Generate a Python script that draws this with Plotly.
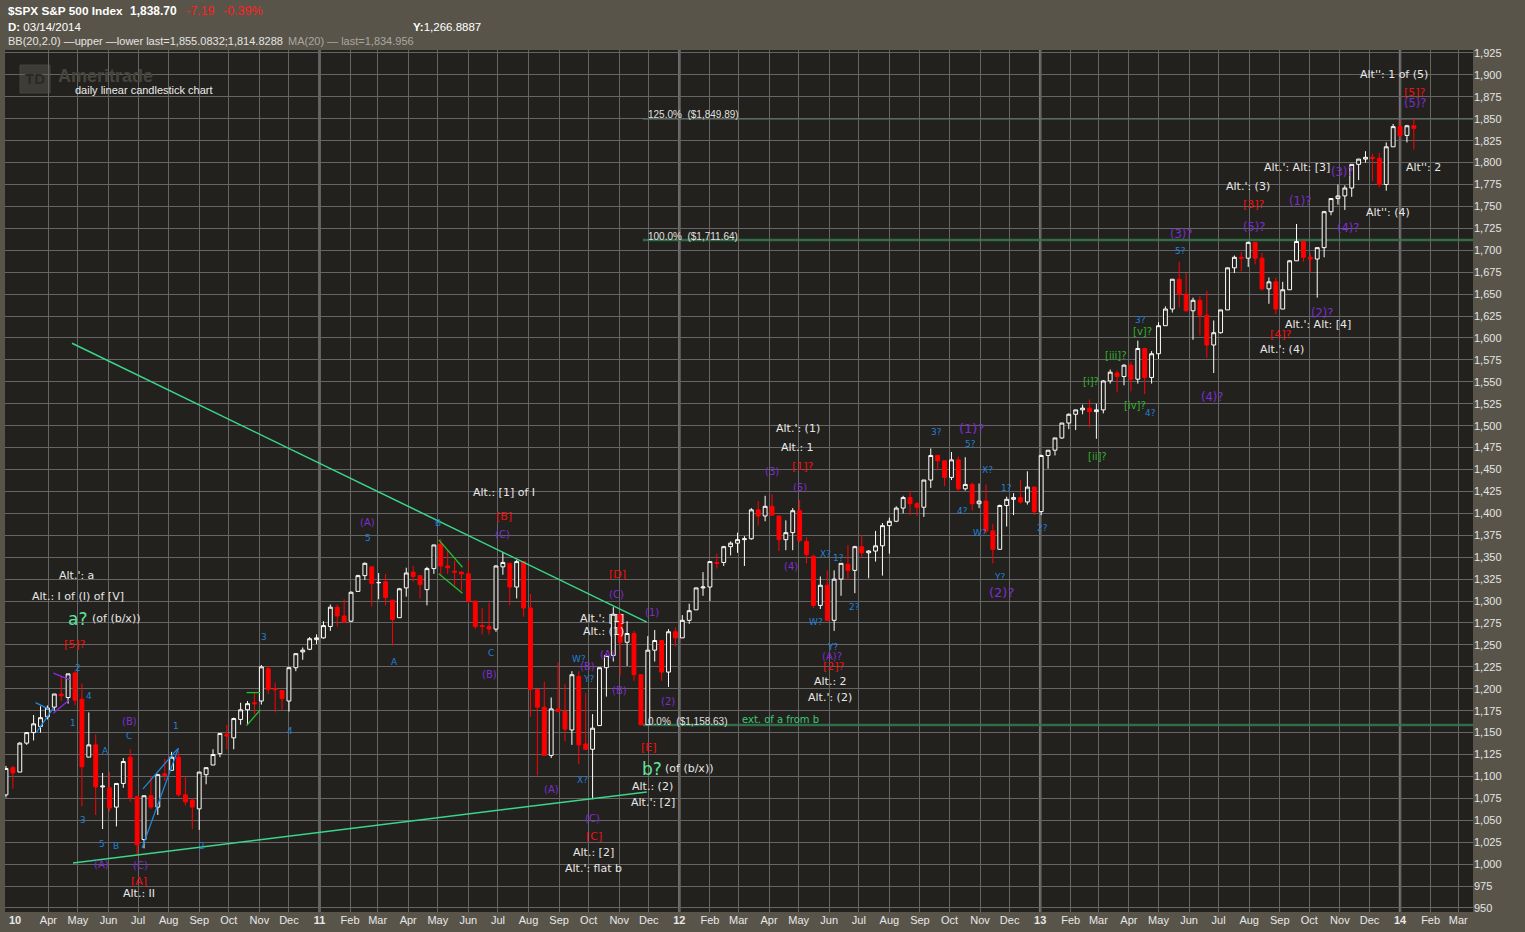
import plotly.graph_objects as go
import pandas as pd

# ---------------- data (weekly OHLC) ----------------
ohlc_2010 = [
    (1079, 1112, 1076, 1109), (1110, 1112, 1086, 1104), (1105, 1139, 1105, 1138), (1138, 1150, 1136, 1150),
    (1150, 1170, 1141, 1160), (1157, 1180, 1150, 1167), (1168, 1181, 1165, 1178), (1179, 1194, 1175, 1194),
    (1194, 1214, 1186, 1192), (1190, 1217, 1183, 1217), (1218, 1220, 1181, 1187), (1188, 1206, 1066, 1111),
    (1122, 1173, 1122, 1136), (1136, 1148, 1056, 1088), (1088, 1104, 1040, 1089), (1087, 1105, 1060, 1064),
    (1065, 1092, 1043, 1092), (1092, 1121, 1087, 1117), (1122, 1131, 1071, 1076), (1077, 1078, 1011, 1022),
    (1028, 1078, 1018, 1078), (1078, 1100, 1063, 1065), (1065, 1103, 1056, 1102), (1103, 1120, 1095, 1101),
    (1107, 1128, 1107, 1122), (1122, 1129, 1077, 1079), (1079, 1100, 1067, 1071), (1073, 1075, 1040, 1065),
    (1063, 1105, 1039, 1105), (1102, 1110, 1091, 1110), (1113, 1131, 1113, 1125), (1126, 1149, 1122, 1149),
    (1148, 1159, 1131, 1146), (1144, 1167, 1131, 1166), (1165, 1184, 1159, 1176), (1176, 1186, 1159, 1183),
    (1184, 1196, 1171, 1183), (1186, 1227, 1182, 1225), (1223, 1226, 1194, 1199), (1200, 1207, 1173, 1199),
    (1198, 1198, 1176, 1189), (1186, 1225, 1174, 1224), (1224, 1240, 1220, 1240), (1242, 1247, 1233, 1244),
    (1245, 1259, 1244, 1257), (1256, 1262, 1251, 1258),
]
ohlc_2011 = [
    (1258, 1277, 1257, 1272), (1271, 1296, 1266, 1293), (1293, 1296, 1271, 1283), (1283, 1302, 1275, 1276),
    (1277, 1311, 1276, 1310), (1311, 1330, 1311, 1329), (1329, 1344, 1324, 1343), (1339, 1339, 1294, 1320),
    (1321, 1332, 1302, 1321), (1322, 1331, 1295, 1304), (1301, 1301, 1249, 1279), (1281, 1315, 1281, 1314),
    (1315, 1338, 1305, 1332), (1333, 1340, 1322, 1328), (1329, 1329, 1303, 1319), (1313, 1339, 1295, 1337),
    (1337, 1364, 1331, 1364), (1365, 1371, 1329, 1340), (1340, 1359, 1331, 1338), (1334, 1346, 1318, 1333),
    (1333, 1334, 1312, 1331), (1331, 1346, 1297, 1300), (1300, 1300, 1268, 1271), (1272, 1292, 1262, 1271),
    (1271, 1298, 1262, 1268), (1268, 1341, 1265, 1340), (1339, 1356, 1330, 1344), (1343, 1343, 1295, 1316),
    (1316, 1347, 1303, 1345), (1345, 1345, 1282, 1292), (1292, 1308, 1168, 1199), (1199, 1199, 1101, 1179),
    (1179, 1208, 1124, 1124), (1124, 1190, 1121, 1177), (1177, 1230, 1173, 1174), (1174, 1205, 1140, 1154),
    (1153, 1220, 1136, 1216), (1214, 1220, 1114, 1136), (1137, 1195, 1130, 1131), (1131, 1171, 1074, 1155),
    (1158, 1224, 1158, 1224), (1224, 1239, 1191, 1238), (1238, 1293, 1231, 1285), (1285, 1285, 1215, 1253),
    (1253, 1277, 1226, 1263), (1263, 1266, 1209, 1216), (1216, 1216, 1158, 1159), (1159, 1260, 1159, 1244),
    (1244, 1267, 1231, 1255), (1255, 1255, 1209, 1219), (1219, 1268, 1202, 1265), (1265, 1270, 1248, 1258),
]
ohlc_2012 = [
    (1258, 1284, 1258, 1278), (1278, 1297, 1274, 1289), (1290, 1315, 1290, 1315), (1315, 1333, 1306, 1316),
    (1316, 1345, 1300, 1345), (1344, 1354, 1337, 1343), (1344, 1363, 1340, 1362), (1362, 1368, 1352, 1366),
    (1366, 1378, 1355, 1370), (1370, 1374, 1340, 1371), (1371, 1406, 1370, 1404), (1404, 1414, 1386, 1397),
    (1397, 1420, 1391, 1408), (1408, 1422, 1397, 1398), (1397, 1397, 1357, 1370), (1370, 1392, 1358, 1378),
    (1378, 1406, 1358, 1403), (1403, 1415, 1367, 1369), (1368, 1373, 1343, 1353), (1351, 1353, 1292, 1295),
    (1295, 1328, 1291, 1318), (1318, 1335, 1277, 1278), (1278, 1335, 1266, 1325), (1325, 1343, 1306, 1343),
    (1342, 1364, 1324, 1335), (1335, 1363, 1309, 1362), (1362, 1375, 1350, 1355), (1355, 1358, 1326, 1357),
    (1357, 1380, 1345, 1363), (1363, 1389, 1329, 1386), (1386, 1395, 1354, 1391), (1391, 1408, 1390, 1406),
    (1406, 1420, 1400, 1418), (1418, 1426, 1398, 1411), (1411, 1413, 1397, 1407), (1407, 1438, 1396, 1438),
    (1438, 1474, 1429, 1466), (1466, 1467, 1449, 1460), (1460, 1460, 1431, 1441), (1441, 1470, 1438, 1461),
    (1461, 1465, 1425, 1428), (1428, 1464, 1426, 1433), (1433, 1435, 1403, 1411), (1411, 1434, 1406, 1414),
    (1414, 1433, 1377, 1380), (1380, 1388, 1343, 1359), (1359, 1410, 1359, 1409), (1409, 1419, 1385, 1416),
    (1416, 1423, 1398, 1418), (1418, 1438, 1411, 1413), (1413, 1448, 1410, 1430), (1430, 1430, 1398, 1402),
    (1402, 1467, 1398, 1466),
]
ohlc_2013 = [
    (1466, 1472, 1451, 1472), (1472, 1486, 1466, 1486), (1486, 1503, 1485, 1503), (1503, 1514, 1496, 1513),
    (1513, 1518, 1495, 1518), (1518, 1524, 1513, 1520), (1520, 1530, 1498, 1516), (1516, 1525, 1485, 1518),
    (1518, 1552, 1514, 1551), (1551, 1564, 1548, 1561), (1560, 1563, 1538, 1556), (1556, 1570, 1546, 1569),
    (1569, 1573, 1539, 1553), (1553, 1597, 1548, 1588), (1588, 1588, 1536, 1555), (1555, 1585, 1548, 1582),
    (1582, 1618, 1576, 1614), (1614, 1636, 1614, 1633), (1633, 1667, 1629, 1667), (1667, 1687, 1635, 1650),
    (1650, 1674, 1630, 1631), (1631, 1646, 1598, 1643), (1643, 1648, 1603, 1626), (1626, 1654, 1577, 1592),
    (1592, 1620, 1560, 1606), (1606, 1632, 1605, 1632), (1632, 1680, 1632, 1680), (1680, 1694, 1674, 1692),
    (1692, 1698, 1676, 1691), (1691, 1710, 1681, 1709), (1709, 1709, 1684, 1691), (1691, 1697, 1654, 1656),
    (1656, 1669, 1639, 1664), (1664, 1669, 1627, 1633), (1633, 1664, 1633, 1655), (1655, 1689, 1655, 1688),
    (1688, 1730, 1688, 1710), (1710, 1711, 1687, 1692), (1692, 1696, 1675, 1690), (1690, 1703, 1646, 1703),
    (1703, 1745, 1692, 1744), (1744, 1759, 1740, 1759), (1759, 1775, 1752, 1762), (1762, 1774, 1746, 1771),
    (1771, 1798, 1761, 1798), (1798, 1804, 1780, 1804), (1804, 1813, 1800, 1806), (1806, 1810, 1779, 1805),
    (1805, 1811, 1772, 1775), (1775, 1823, 1768, 1818), (1818, 1844, 1818, 1841), (1841, 1849, 1827, 1831),
]
ohlc_2014 = [
    (1831, 1843, 1823, 1842), (1842, 1851, 1815, 1839),
]

# Fibonacci levels
fib_levels = [1849.89, 1711.64, 1158.63]
fib_texts = ["125.0%  ($1,849.89)", "100.0%  ($1,711.64)", "0.0%  ($1,158.63)"]
fib_start = "2011-11-25"

# Trend lines (date, price) pairs
trend_upper = (["2010-04-25", "2011-11-29"], [1594, 1276])
trend_lower = (["2010-04-26", "2011-11-29"], [1001.4, 1082.3])
blue_channel = [(["2010-07-05", "2010-08-11"], [1018.5, 1132.5]),
                (["2010-07-06", "2010-08-10"], [1085.8, 1131.4]),
                (["2010-03-19", "2010-04-01"], [1184.2, 1177.0]),
                (["2010-03-20", "2010-04-06"], [1150.4, 1177.8])]
purple_wedge = [(["2010-04-06", "2010-04-23"], [1217.7, 1210.0]),
                (["2010-04-06", "2010-04-22"], [1172.1, 1187.3])]
green_small = [(["2010-10-19", "2010-11-02"], [1195.6, 1195.6]),
               (["2010-10-19", "2010-11-02"], [1158.0, 1175.9]),
               (["2011-05-02", "2011-05-26"], [1369.7, 1338.6]),
               (["2011-05-02", "2011-05-26"], [1331.0, 1308.9])]

# Wave labels (date, price, text)
white_labels = [
    ("2010-04-30", 1328.6, "Alt.': a"), ("2010-05-01", 1304.7, "Alt.: I of (I) of [V]"),
    ("2010-07-02", 966, "Alt.: II"), ("2011-07-07", 1423.3, "Alt.: [1] of I"),
    ("2011-10-15", 1279.6, "Alt.': [1]"), ("2011-10-16", 1264.8, "Alt.: (1)"),
    ("2011-12-05", 1088, "Alt.: (2)"), ("2011-12-05", 1069.8, "Alt.': [2]"),
    ("2011-10-06", 1012.8, "Alt.: [2]"), ("2011-10-06", 994.6, "Alt.': flat b"),
    ("2012-04-30", 1496.3, "Alt.': (1)"), ("2012-04-30", 1474.6, "Alt.: 1"),
    ("2012-06-02", 1207.8, "Alt.: 2"), ("2012-06-02", 1189.5, "Alt.': (2)"),
    ("2013-09-18", 1793.9, "Alt.': Alt: [3]"), ("2013-07-31", 1773.3, "Alt.': (3)"),
    ("2013-12-20", 1742.6, "Alt'': (4)"), ("2014-01-25", 1793.9, "Alt'': 2"),
    ("2013-10-10", 1614.9, "Alt.': Alt: [4]"), ("2013-09-03", 1586.3, "Alt.': (4)"),
    ("2013-12-26", 1899.9, "Alt'': 1 of (5)"),
]
white_left_labels = [("2010-05-13", 1279.6, "(of (b/x))"), ("2011-12-15", 1108.6, "(of (b/x))")]
blue_labels = [
    ("2010-05-01", 1223.7, "2"), ("2010-05-12", 1191.8, "4"), ("2010-04-26", 1161, "1"),
    ("2010-05-06", 1050.4, "3"), ("2010-05-25", 1023, "5"), ("2010-06-09", 1020.8, "B"),
    ("2010-06-22", 1146, "C"), ("2010-05-29", 1129, "A"), ("2010-08-08", 1157.6, "1"),
    ("2010-09-04", 1020.8, "2"), ("2010-11-06", 1259, "3"), ("2010-12-02", 1152, "4"),
    ("2011-02-19", 1372, "5"), ("2011-05-01", 1389, "B"), ("2011-03-18", 1230.6, "A"),
    ("2011-06-24", 1241, "C"), ("2011-09-21", 1234, "W?"), ("2011-10-01", 1211.2, "Y?"),
    ("2011-09-25", 1096, "X?"), ("2012-05-28", 1353.7, "X?"), ("2012-06-10", 1349.2, "1?"),
    ("2012-06-27", 1293.3, "2?"), ("2012-05-19", 1276.2, "W?"), ("2012-06-04", 1247.7, "Y?"),
    ("2012-09-18", 1492.8, "3?"), ("2012-10-22", 1479.2, "5?"), ("2012-11-09", 1449.5, "X?"),
    ("2012-11-28", 1429, "1?"), ("2012-10-14", 1402.8, "4?"), ("2012-11-01", 1377.7, "W?"),
    ("2013-01-03", 1383.4, "2?"), ("2012-11-21", 1327.5, "Y?"), ("2013-05-23", 1699.2, "5?"),
    ("2013-04-13", 1620.6, "3?"), ("2013-04-23", 1514.0, "4?"),
]
purple_labels = [
    ("2010-05-25", 999.1, "(A)"), ("2010-07-03", 998, "(C)"), ("2010-06-22", 1162.2, "(B)"),
    ("2011-07-06", 1375.4, "(C)"), ("2011-02-19", 1390, "(A)"), ("2011-06-22", 1215.8, "(B)"),
    ("2011-10-29", 1308, "(C)"), ("2011-12-04", 1286.5, "(1)"), ("2011-10-20", 1238.6, "(A)"),
    ("2011-09-30", 1225, "(B)"), ("2011-11-01", 1197.5, "(B)"), ("2011-12-20", 1186, "(2)"),
    ("2011-08-24", 1084.6, "(A)"), ("2011-10-05", 1051.6, "(C)"), ("2012-04-04", 1447.2, "(3)"),
    ("2012-05-02", 1429, "(5)"), ("2012-04-23", 1339, "(4)"), ("2012-06-04", 1236.3, "(A)?"),
]
purple_mid_labels = [
    ("2013-08-06", 1726.6, "(5)?"), ("2013-05-24", 1718.6, "(3)?"), ("2013-06-24", 1532.8, "(4)?"),
    ("2013-11-03", 1789.3, "(3)?"), ("2013-09-22", 1756.2, "(1)?"), ("2013-11-09", 1725.5, "(4)?"),
    ("2013-10-14", 1628.5, "(2)?"), ("2014-01-16", 1868, "(5)?"),
]
purple_big_labels = [("2012-10-23", 1496.3, "(1)?"), ("2012-11-23", 1309.3, "(2)?")]
red_labels = [
    ("2010-04-28", 1250, "[5]?"), ("2010-07-02", 979.7, "[A]"), ("2011-07-07", 1396, "[B]"),
    ("2011-10-30", 1329.8, "[D]"), ("2011-12-01", 1132.5, "[E]"), ("2011-10-06", 1031, "[C]"),
    ("2012-05-05", 1454, "[1]?"), ("2012-06-06", 1225, "[2]?"), ("2013-08-06", 1751.7, "[3]?"),
    ("2013-09-02", 1603.5, "[4]?"), ("2014-01-16", 1880.5, "[5]?"),
]
green_labels = [
    ("2013-04-15", 1606.9, "[v]?"), ("2013-03-18", 1579.5, "[iii]?"), ("2013-02-22", 1549.9, "[i]?"),
    ("2013-04-07", 1522.5, "[iv]?"), ("2013-02-28", 1464.3, "[ii]?"),
]
green_big_labels = [("2010-05-01", 1279.6, "a?"), ("2011-12-04", 1108.6, "b?")]
ext_label = ("2012-03-03", 1164.5, "ext. of a from b")

# Header text
title_name = "$SPX S&P 500 Index"
last_price = "1,838.70"
net_change = "-7.19"
pct_change = "-0.39%"
date_text = "03/14/2014"
y_text = "1,266.8887"
bb_text = "BB(20,2.0) \u2014upper \u2014lower last=1,855.0832;1,814.8288"
ma_text = "MA(20) \u2014 last=1,834.956"

# ---------------- build ----------------
weekly = ohlc_2010 + ohlc_2011 + ohlc_2012 + ohlc_2013 + ohlc_2014
dates = pd.date_range("2010-02-17", periods=len(weekly), freq="7D")
opens = [r[0] for r in weekly]
closes = [r[3] for r in weekly]
highs = [max(r) for r in weekly]
lows = [min(r) for r in weekly]

W, H = 1525, 932
L, R, T, B = 5, 52, 50, 20
PW, PH = W - L - R, H - T - B


def px(x):
    return (x - L) / PW


def py(y):
    return 1 - (y - T) / PH


PLOT_BG = "#23211d"
PAPER_BG = "#58544a"
GRID = "#656565"
FONT_LBL = "DejaVu Sans"
FONT_UI = "Liberation Sans"

fig = go.Figure()

fig.add_trace(go.Candlestick(
    x=dates, open=opens, high=highs, low=lows, close=closes,
    increasing=dict(line=dict(color="#ffffff", width=1), fillcolor=PLOT_BG),
    decreasing=dict(line=dict(color="#ff0000", width=1), fillcolor="#ff0000"),
    whiskerwidth=0, hoverinfo="skip", showlegend=False,
))


def add_line(xs, ys, color, width):
    fig.add_trace(go.Scatter(x=xs, y=ys, mode="lines", line=dict(color=color, width=width),
                             hoverinfo="skip", showlegend=False))


add_line(*trend_upper, "#3ad68a", 1.5)
add_line(*trend_lower, "#3ad68a", 1.5)
for xs, ys in blue_channel:
    add_line(xs, ys, "#1e88e0", 1.3)
for xs, ys in purple_wedge:
    add_line(xs, ys, "#8a2be2", 1.3)
for xs, ys in green_small:
    add_line(xs, ys, "#22c02a", 1.3)

shapes = []
# year grid lines
for yr in ["2011-01-01", "2012-01-01", "2013-01-01", "2014-01-01"]:
    shapes.append(dict(type="line", xref="x", yref="paper", x0=yr, x1=yr, y0=0, y1=1,
                       line=dict(color="#767676", width=2.5), layer="below"))
# fib lines
fib_styles = [("#66ad88", 1), ("#2f6e48", 2.5), ("#2f6e48", 2.5)]
x_end = "2014-03-16"
for lvl, (col, wd) in zip(fib_levels, fib_styles):
    shapes.append(dict(type="line", xref="x", yref="y", x0=fib_start, x1=x_end, y0=lvl, y1=lvl,
                       line=dict(color=col, width=wd), layer="below"))
# TD logo box
shapes.append(dict(type="rect", xref="paper", yref="paper", x0=px(20), x1=px(50), y0=py(93), y1=py(65),
                   fillcolor="#3d3c36", line=dict(color="#46453e", width=1), layer="below"))

ann = []


def lab(lst, color, size, xanchor="center", family=FONT_LBL):
    for d, p, t in lst:
        ann.append(dict(x=d, y=p, xref="x", yref="y", text=t, showarrow=False,
                        xanchor=xanchor, yanchor="middle",
                        font=dict(family=family, size=size, color=color)))


lab(white_labels, "#e8e8e8", 11)
lab(white_left_labels, "#e8e8e8", 11, xanchor="left")
lab(blue_labels, "#1f80d6", 9)
lab(purple_labels, "#7b2fd0", 10)
lab(purple_mid_labels, "#7b2fd0", 11.5)
lab(purple_big_labels, "#7b2fd0", 13)
lab(red_labels, "#ee1010", 11)
lab(green_labels, "#2fb02f", 10)
lab(green_big_labels, "#5de69a", 17)
lab([ext_label], "#3cc878", 10, xanchor="left")

for lvl, txt in zip(fib_levels, fib_texts):
    ann.append(dict(x="2011-11-28", y=lvl, xref="x", yref="y", text=txt, showarrow=False,
                    xanchor="left", yanchor="middle", yshift=4,
                    font=dict(family=FONT_UI, size=10, color="#e0e0e0")))


def hdr(x, y, text, color, size, family=FONT_UI):
    ann.append(dict(x=px(x), y=py(y), xref="paper", yref="paper", text=text, showarrow=False,
                    xanchor="left", yanchor="middle", font=dict(family=family, size=size, color=color)))


hdr(6, 11, "<b>" + title_name + "</b>", "#ffffff", 11.8)
hdr(128, 11, "<b>" + last_price + "</b>", "#ffffff", 12)
hdr(184, 11, net_change, "#ff2020", 12.5)
hdr(221, 11, pct_change, "#ff2020", 12.5)
hdr(6, 27, "<b>D:</b> " + date_text, "#ffffff", 11.5)
hdr(411, 27, "<b>Y:</b>" + y_text, "#ffffff", 11.5)
hdr(6, 41, bb_text, "#e4e4e4", 11)
hdr(286, 41, ma_text, "#a8a8a0", 11)
hdr(7, 920, "<b>10</b>", "#e8e8e8", 11)
# watermark
ann.append(dict(x=px(35), y=py(79), xref="paper", yref="paper", text="<b>TD</b>", showarrow=False,
                xanchor="center", yanchor="middle", font=dict(family=FONT_UI, size=15, color="#2a2924")))
hdr(56, 76, "<b>Ameritrade</b>", "#46453e", 18)
hdr(73, 89.5, "daily linear candlestick chart", "#ececec", 11)

tick_dates = pd.date_range("2010-04-01", "2014-03-01", freq="MS")
tick_text = ["<b>%s</b>" % d.strftime("%y") if d.month == 1 else d.strftime("%b") for d in tick_dates]

fig.update_layout(
    width=W, height=H,
    margin=dict(l=L, r=R, t=T, b=B, pad=0),
    paper_bgcolor=PAPER_BG, plot_bgcolor=PLOT_BG,
    shapes=shapes, annotations=ann, showlegend=False, boxgap=0.2,
    xaxis=dict(type="date", range=["2010-02-16", x_end], tickvals=list(tick_dates), ticktext=tick_text,
               showgrid=True, gridcolor=GRID, gridwidth=1, zeroline=False, showline=False, ticks="",
               tickfont=dict(family=FONT_UI, size=11, color="#e8e8e8"), rangeslider=dict(visible=False),
               fixedrange=True),
    yaxis=dict(range=[945.4, 1928.4], side="right", tick0=950, dtick=25, tickformat=",",
               showgrid=True, gridcolor=GRID, gridwidth=1, zeroline=False, showline=False, ticks="",
               tickfont=dict(family=FONT_UI, size=11, color="#e4e4e4"), fixedrange=True),
)

fig.write_html("out.html", config={"displayModeBar": False},
               post_script="document.body.style.margin='0px';")
